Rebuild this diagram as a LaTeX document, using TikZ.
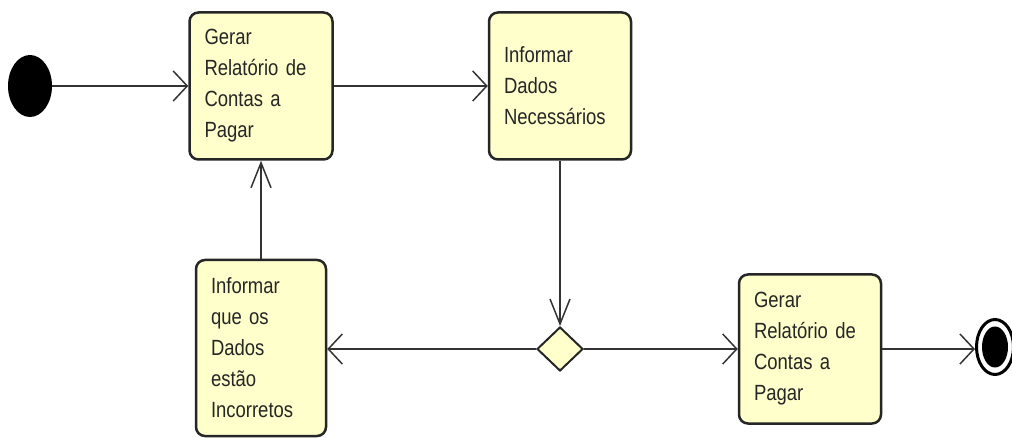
\documentclass[tikz,border=0pt]{standalone}
\usepackage{fontspec}
\setmainfont{Liberation Sans}[FakeStretch=0.84]
\usepackage{xcolor}
\usetikzlibrary{arrows.meta,shapes.geometric}
\definecolor{fundo}{RGB}{255,255,204}

\begin{document}
\begin{tikzpicture}[x=1pt,y=-1pt]
\tikzset{acao/.style={draw=black!85,line width=2.5pt,rounded corners=9pt,fill=fundo,text=black!85,align=left,inner xsep=15pt,inner ysep=0pt,font=\fontsize{22}{31}\selectfont}}
\tikzset{seta/.style={draw=black!80,line width=1.5pt,-{Straight Barb[length=14pt,width=30pt]}}}
\tikzset{setav/.style={draw=black!80,line width=1.5pt,-{Straight Barb[length=25pt,width=20pt]}}}

\useasboundingbox (0,0) rectangle (1012,438);

% estados inicial e final
\node[ellipse,fill=black,minimum width=44pt,minimum height=62pt,inner sep=0pt] (inicio) at (30,86) {};
\node[ellipse,draw=black,line width=3pt,minimum width=37pt,minimum height=55pt,inner sep=0pt] (fim) at (995,347) {};
\node[ellipse,fill=black,minimum width=26pt,minimum height=41pt,inner sep=0pt] (fimc) at (fim) {};

% atividades
\node[acao,text width=113pt,minimum height=147pt] (gerar) at (261,86) {Gerar\\Relatório de\\Contas a\\Pagar};
\node[acao,text width=112pt,minimum height=147pt] (dados) at (560,86) {Informar\\Dados\\Necessários};
\node[acao,text width=100pt,minimum height=176pt] (incorretos) at (261,348) {Informar\\que os\\Dados\\estão\\Incorretos};
\node[acao,text width=112pt,minimum height=149pt] (gerar2) at (810,349) {Gerar\\Relatório de\\Contas a\\Pagar};
\node[diamond,draw=black!85,line width=2pt,fill=fundo,minimum width=46pt,minimum height=44pt,inner sep=0pt] (decisao) at (560,349) {};

% fluxos
\draw[seta] (inicio) -- (gerar);
\draw[seta] (gerar) -- (dados);
\draw[setav] (dados.south) -- (decisao.north);
\draw[seta] (decisao.west) -- (decisao.west -| incorretos.east);
\draw[seta] (decisao.east) -- (decisao.east -| gerar2.west);
\draw[seta] (gerar2.east) -- (gerar2.east -| fim.west);
\draw[setav] (incorretos.north) -- (gerar.south);

\end{tikzpicture}
\end{document}
